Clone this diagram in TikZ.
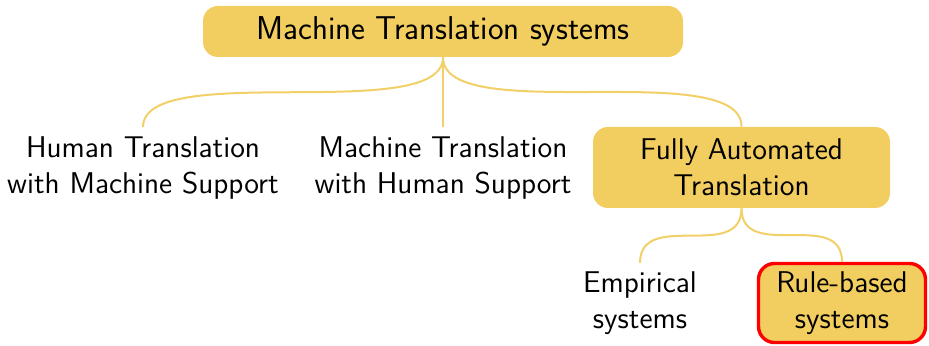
\documentclass[tikz,border=0pt]{standalone}
\usetikzlibrary{calc}
\definecolor{boxyellow}{RGB}{242,206,96}
\definecolor{edgeyellow}{RGB}{242,208,104}
\definecolor{alertred}{RGB}{255,0,0}
\begin{document}
\begin{tikzpicture}[x=0.5pt,y=-0.5pt,
  every node/.style={font=\sffamily\fontsize{15}{18.2}\selectfont,align=center,inner sep=0pt},
  rootbox/.style={fill=boxyellow,rounded corners=7.5pt,minimum width=240pt,minimum height=25.5pt,
    font=\sffamily\fontsize{16.5}{19}\selectfont},
  catbox/.style={fill=boxyellow,rounded corners=7.5pt,minimum width=148.5pt,minimum height=40.5pt},
  leaf/.style={},
  alertbox/.style={fill=boxyellow,draw=alertred,line width=1.7pt,rounded corners=8pt,
    minimum width=83.5pt,minimum height=39.5pt},
  branch/.style={draw=edgeyellow,line width=1pt}
]
\useasboundingbox (0,0) rectangle (929,346);

% nodes
\node[rootbox] (root) at (443,31.5) {Machine Translation systems};
\node[leaf] (hms) at (143,168) {Human Translation\\with Machine Support};
\node[leaf] (mhs) at (443,168) {Machine Translation\\with Human Support};
\node[catbox] (fat) at (741.5,167.5) {Fully Automated\\Translation};
\node[leaf] (emp) at (640,303) {Empirical\\systems};
\node[alertbox] (rule) at (842,303) {Rule-based\\systems};

% connectors: brace-like curves from each parent to its children
\path[branch] (root.south) .. controls +(0,68) and +(0,-68) .. ([yshift=4.5pt]hms.north);
\path[branch] (root.south) -- ([yshift=4.5pt]mhs.north);
\path[branch] (root.south) .. controls +(0,70) and +(0,-70) .. (fat.north);
\path[branch] (fat.south) .. controls +(0,54) and +(0,-54) .. ([yshift=4pt]emp.north);
\path[branch] (fat.south) .. controls +(0,54) and +(0,-54) .. (rule.north);
\end{tikzpicture}
\end{document}
